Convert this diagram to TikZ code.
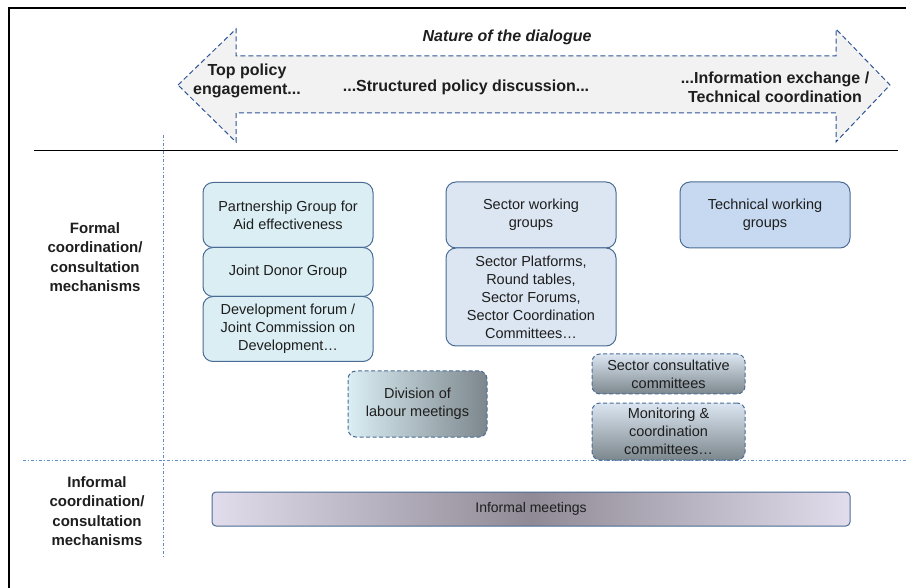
\documentclass[tikz,border=0pt]{standalone}
\usepackage{fontspec}
\setmainfont{Liberation Sans}
\usetikzlibrary{positioning}
\definecolor{Frame}{HTML}{4A6B94}
\definecolor{ArrowLine}{HTML}{2E5597}
\definecolor{ArrowFill}{HTML}{F2F2F2}
\definecolor{AquaFill}{HTML}{DAEEF3}
\definecolor{BlueFill}{HTML}{DCE6F2}
\definecolor{TechFill}{HTML}{C6D9F1}
\definecolor{Slate}{HTML}{7C878D}
\definecolor{Lilac}{HTML}{E2DDEC}
\definecolor{Smoke}{HTML}{8F8A95}
\definecolor{DotLine}{HTML}{5B8BC9}
\definecolor{Ink}{HTML}{1E1E1E}

\begin{document}
\begin{tikzpicture}[x=1pt, y=-1pt, font=\fontsize{14.5}{18}\selectfont,
    grp/.style={draw=Frame, line width=1pt, rounded corners=10pt, outer sep=0pt, minimum width=170pt, align=center, text=Ink},
    dgrp/.style={grp, dash pattern=on 4pt off 2.5pt, rounded corners=8pt},
    side/.style={font=\fontsize{15}{19.5}\selectfont\bfseries, align=center, text=Ink},
    head/.style={font=\fontsize{16}{19}\selectfont\bfseries, align=center, text=Ink},
    sep/.style={DotLine, line width=0.7pt, dash pattern=on 3pt off 2pt on 1pt off 2pt}]
    \useasboundingbox (0,0) rectangle (906,588);
    \draw[line width=2pt] (906,8) -- (9,8) -- (9,588);

    \draw[ArrowLine, fill=ArrowFill, dash pattern=on 5pt off 3pt, line width=1pt] (178,85) -- (236,29) -- (236,56) -- (836,56) -- (836,29) -- (890,85) -- (836,142) -- (836,113) -- (236,113) -- (236,142) -- cycle;
    \node[head, font=\fontsize{16}{19}\selectfont\bfseries\itshape] (nature) at (507,37) {Nature of the dialogue};
    \node[head] (toppol) at (247,81) {Top policy\\engagement...};
    \node[head] (struct) at (466,87) {...Structured policy discussion...};
    \node[head] (info) at (775,87) {...Information exchange /\\Technical coordination};

    \draw[line width=0.8pt] (34,150) -- (898,150);
    \draw[sep] (163,135) -- (163,557);
    \draw[sep] (23,460) -- (906,460);

    \node[side] (formal) at (95,257) {Formal\\coordination/\\consultation\\mechanisms};
    \node[side] (informal) at (97,511) {Informal\\coordination/\\consultation\\mechanisms};

    \node[grp, fill=AquaFill, minimum height=65pt] (pg) at (288,215) {Partnership Group for\\Aid effectiveness};
    \node[grp, fill=AquaFill, minimum height=49pt, below=0pt of pg] (jdg) {Joint Donor Group};
    \node[grp, fill=AquaFill, minimum height=65pt, below=0pt of jdg] (dev) {Development forum /\\Joint Commission on\\Development…};

    \node[grp, fill=BlueFill, minimum height=66pt] (swg) at (531,215) {Sector working\\groups};
    \node[grp, fill=BlueFill, minimum height=98pt, below=0pt of swg] (plat) {Sector Platforms,\\Round tables,\\Sector Forums,\\Sector Coordination\\Committees…};
    \node[grp, fill=TechFill, minimum height=66pt] (twg) at (765,215) {Technical working\\groups};

    \node[dgrp, left color=AquaFill, right color=Slate, minimum width=139pt, minimum height=66pt] (dol) at (417.5,404) {Division of\\labour meetings};
    \node[dgrp, top color=BlueFill, bottom color=Slate, minimum width=153pt, minimum height=40pt] (scc) at (668.5,374) {Sector consultative\\committees};
    \node[dgrp, top color=BlueFill, bottom color=Slate, minimum width=153pt, minimum height=57pt, below=9pt of scc] (mon) {Monitoring \&\\coordination\\committees…};

    \node[grp, rounded corners=4pt, left color=Lilac, right color=Lilac, middle color=Smoke, minimum width=638pt, minimum height=34pt, font=\fontsize{14}{17}\selectfont] (meet) at (531,509) {Informal meetings};
\end{tikzpicture}
\end{document}
